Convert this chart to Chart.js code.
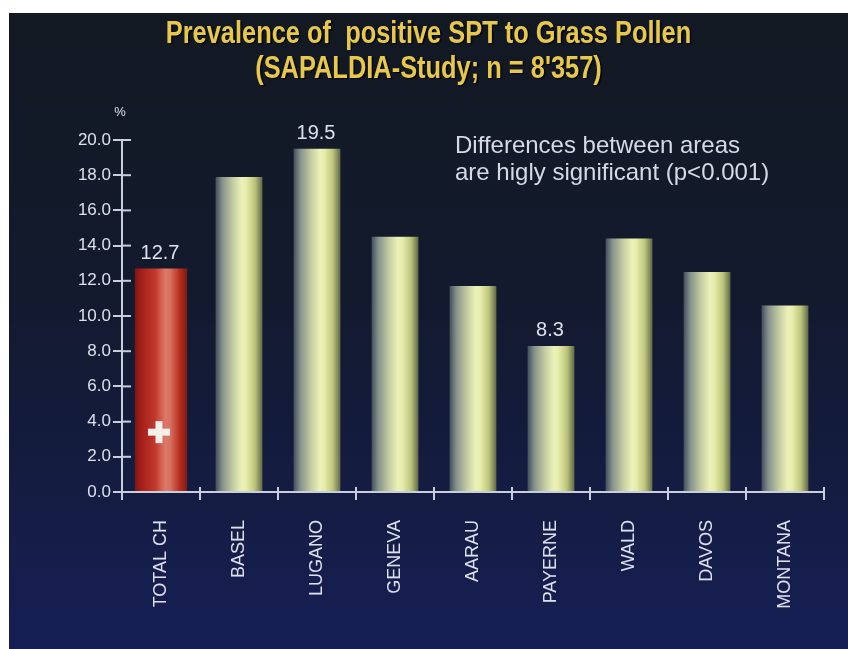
<!DOCTYPE html>
<html><head><meta charset="utf-8">
<script src="https://cdn.jsdelivr.net/npm/chart.js@4.4.1/dist/chart.umd.min.js"></script>
<style>
html,body{margin:0;padding:0;background:#fff;width:848px;height:649px;overflow:hidden}
#wrap{position:absolute;left:9px;top:13px;width:839px;height:636px}
</style></head><body>
<div id="wrap"><canvas id="c" width="839" height="636"></canvas></div>
<script>
const categories = ['TOTAL CH','BASEL','LUGANO','GENEVA','AARAU','PAYERNE','WALD','DAVOS','MONTANA'];
const prevalence = [12.7, 17.9, 19.5, 14.5, 11.7, 8.3, 14.4, 12.5, 10.6];
const valueLabels = ['12.7', null, '19.5', null, null, '8.3', null, null, null];
const yTicks = [0, 2, 4, 6, 8, 10, 12, 14, 16, 18, 20];
const titleLines = ['Prevalence of  positive SPT to Grass Pollen', "(SAPALDIA-Study; n = 8'357)"];
const noteLines = ['Differences between areas', 'are higly significant (p<0.001)'];
const unitLabel = '%';
const crossValue = 3.4;

const axisColor = '#c9cedd';
const textColor = '#dde1ec';
const sans = "'Liberation Sans',Arial,Helvetica,sans-serif";

const totalData = prevalence.map((v, i) => i === 0 ? v : null);
const areaData = prevalence.map((v, i) => i === 0 ? null : v);

function barGradient(ctx, pct, stops, fallback) {
  const chart = ctx.chart;
  const xs = chart.scales && chart.scales.x;
  if (!xs || !chart.chartArea || ctx.dataIndex === undefined) return fallback;
  const cw = (xs.right - xs.left) / categories.length;
  const cx = xs.getPixelForValue(ctx.dataIndex);
  const w = cw * pct;
  const g = chart.ctx.createLinearGradient(cx - w / 2, 0, cx + w / 2, 0);
  stops.forEach(s => g.addColorStop(s[0], s[1]));
  return g;
}
const redStops = [[0,'#7e1514'],[0.12,'#a41f1a'],[0.4,'#c23a2c'],[0.58,'#dc7a68'],[0.68,'#d8705e'],[0.85,'#b8301f'],[1,'#7c1b14']];
const yelStops = [[0,'#434e5c'],[0.14,'#85908c'],[0.38,'#c6cea2'],[0.56,'#ecf1b8'],[0.66,'#e6eca9'],[0.84,'#bcc57c'],[1,'#606848']];

const decor = {
  id: 'decor',
  beforeDraw(chart) {
    const {ctx, width, height} = chart;
    const g = ctx.createLinearGradient(0, 0, 0, height);
    g.addColorStop(0, '#121922');
    g.addColorStop(0.45, '#131a2e');
    g.addColorStop(0.75, '#141c42');
    g.addColorStop(1, '#161f55');
    ctx.save();
    ctx.fillStyle = g;
    ctx.fillRect(0, 0, width, height);
    ctx.restore();
  },
  afterDraw(chart) {
    const {ctx, chartArea: ca, scales: {x, y}, width} = chart;
    ctx.save();
    // title (condensed bold)
    ctx.font = 'bold 31px ' + sans;
    ctx.textAlign = 'center';
    ctx.textBaseline = 'middle';
    ctx.shadowColor = 'rgba(0,0,0,0.85)';
    ctx.shadowOffsetX = 1.5; ctx.shadowOffsetY = 1.5; ctx.shadowBlur = 1;
    ctx.fillStyle = '#e8c84a';
    titleLines.forEach((t, k) => {
      ctx.save();
      ctx.translate(width / 2, 21 + k * 35);
      ctx.scale(0.82, 1);
      ctx.fillText(t, 0, 0);
      ctx.restore();
    });
    ctx.shadowColor = 'transparent';
    ctx.shadowOffsetX = 0; ctx.shadowOffsetY = 0; ctx.shadowBlur = 0;

    ctx.strokeStyle = axisColor;
    ctx.lineWidth = 2;
    yTicks.forEach(v => {
      const py = y.getPixelForValue(v);
      ctx.beginPath(); ctx.moveTo(ca.left, py); ctx.lineTo(ca.left + 9, py); ctx.stroke();
    });
    const cw = (x.right - x.left) / categories.length;
    for (let i = 0; i <= categories.length; i++) {
      const px = x.getPixelForValue(i) - cw / 2;
      ctx.beginPath(); ctx.moveTo(px, ca.bottom - 5); ctx.lineTo(px, ca.bottom); ctx.stroke();
    }
    // value labels
    ctx.fillStyle = textColor;
    ctx.font = '20px ' + sans;
    ctx.textAlign = 'center';
    ctx.textBaseline = 'middle';
    valueLabels.forEach((lab, i) => {
      if (!lab) return;
      const di = i === 0 ? 0 : 1;
      const el = chart.getDatasetMeta(di).data[i];
      ctx.fillText(lab, el.x - 1, el.y - 15);
    });
    // unit
    ctx.font = '13px ' + sans;
    ctx.fillText(unitLabel, ca.left - 2, ca.top - 28);
    // note
    ctx.font = '24px ' + sans;
    ctx.textAlign = 'left';
    ctx.fillStyle = '#d6dae6';
    noteLines.forEach((t, k) => ctx.fillText(t, 446, ca.top + 6 + k * 27));
    // swiss cross
    const red = chart.getDatasetMeta(0).data[0];
    const cy = y.getPixelForValue(crossValue);
    const cxp = red.x - 2;
    ctx.fillStyle = '#f3efec';
    ctx.fillRect(cxp - 11, cy - 3.5, 22, 7);
    ctx.fillRect(cxp - 3.5, cy - 11, 7, 22);
    ctx.restore();
  }
};

new Chart(document.getElementById('c'), {
  type: 'bar',
  data: {
    labels: categories,
    datasets: [
      { label: 'Total CH', data: totalData, barPercentage: 0.67, categoryPercentage: 1,
        backgroundColor: c => barGradient(c, 0.67, redStops, '#b52a20'), borderWidth: 0 },
      { label: 'Areas', data: areaData, barPercentage: 0.6, categoryPercentage: 1,
        backgroundColor: c => barGradient(c, 0.6, yelStops, '#d4dba0'), borderWidth: 0 }
    ]
  },
  options: {
    responsive: false,
    animation: false,
    events: [],
    layout: { padding: { left: 0, right: 24, top: 127, bottom: 0 } },
    datasets: { bar: { grouped: false, skipNull: true } },
    plugins: {
      legend: { display: false },
      tooltip: { enabled: false },
      title: { display: false }
    },
    scales: {
      x: {
        grid: { display: true, drawOnChartArea: false, drawTicks: true, tickLength: 8, color: axisColor, lineWidth: 2, offset: true },
        border: { display: true, color: axisColor, width: 2 },
        ticks: { color: textColor, font: { family: sans, size: 18 }, autoSkip: false, maxRotation: 90, minRotation: 90, padding: 20 },
        afterFit: s => { s.height = 157; }
      },
      y: {
        min: 0, max: 20,
        grid: { display: true, drawOnChartArea: false, drawTicks: true, tickLength: 9, color: axisColor, lineWidth: 2 },
        border: { display: true, color: axisColor, width: 2 },
        ticks: { color: textColor, font: { family: sans, size: 17 }, padding: 2, callback: v => Number(v).toFixed(1) },
        afterBuildTicks: s => { s.ticks = yTicks.map(v => ({ value: v })); },
        afterFit: s => { s.width = 113; }
      }
    }
  },
  plugins: [decor]
});
</script>
</body></html>
